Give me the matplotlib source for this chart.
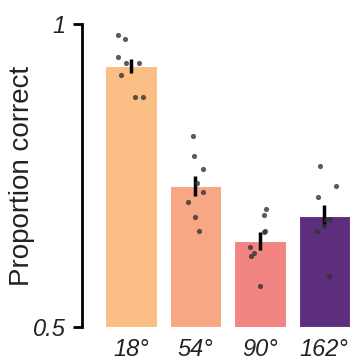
import numpy as np
import matplotlib
matplotlib.use("Agg")
import matplotlib.pyplot as plt

# Data
conditions = ["18°", "54°", "90°", "162°"]
means = [0.931, 0.733, 0.642, 0.684]
sems = [0.012, 0.016, 0.0145, 0.017]
bar_colors = ["#FBBE84", "#F7A783", "#F28482", "#5E2D7E"]

# per-subject points (8 per condition) and their horizontal jitter
points = [
    [0.981, 0.976, 0.946, 0.935, 0.935, 0.915, 0.880, 0.880],
    [0.816, 0.783, 0.761, 0.738, 0.723, 0.706, 0.682, 0.659],
    [0.695, 0.685, 0.659, 0.656, 0.632, 0.622, 0.618, 0.568],
    [0.765, 0.732, 0.715, 0.679, 0.676, 0.666, 0.658, 0.585],
]
jitter = [
    [-0.20, -0.09, -0.20, -0.08, 0.13, -0.16, 0.07, 0.18],
    [-0.04, -0.02, 0.11, 0.02, 0.12, -0.12, 0.00, 0.06],
    [0.09, 0.06, 0.08, 0.07, -0.16, -0.09, -0.14, 0.00],
    [-0.07, 0.18, -0.10, 0.09, 0.02, -0.01, -0.11, 0.08],
]

fam = ["Liberation Sans", "DejaVu Sans"]
txt_color = "#222222"

fig = plt.figure(figsize=(3.52, 3.63), dpi=100)
ax = fig.add_axes([0.233, 0.099, 0.767, 0.835])

x = np.arange(len(conditions))
ax.bar(x, np.array(means) - 0.5, bottom=0.5, width=0.8, color=bar_colors,
       edgecolor="white", linewidth=0.8, zorder=1)
ax.errorbar(x, means, yerr=sems, fmt="none", ecolor="black", elinewidth=2.5,
            capsize=0, zorder=3)
for i in range(len(conditions)):
    ax.scatter(x[i] + np.array(jitter[i]), points[i], s=14, color="#333333",
               alpha=0.8, linewidths=0, zorder=4)

ax.set_xlim(-0.76, 3.43)
ax.set_ylim(0.5, 1.0)
ax.set_yticks([0.5, 1.0])
ax.set_yticklabels(["0.5", "1"], fontsize=17, style="italic", family=fam,
                   color=txt_color)
ax.set_xticks(x)
ax.set_xticklabels(conditions, fontsize=17, style="italic", family=fam,
                   color=txt_color)
ax.tick_params(axis="x", length=0, pad=8)
ax.tick_params(axis="y", length=6.5, width=2, pad=5.5)
ax.set_ylabel("Proportion correct", fontsize=20, family=fam, color=txt_color)
ax.yaxis.set_label_coords(-0.174, 0.5)

for s in ["top", "right", "bottom"]:
    ax.spines[s].set_visible(False)
ax.spines["left"].set_linewidth(2)

fig.savefig("out.png", dpi=100)
